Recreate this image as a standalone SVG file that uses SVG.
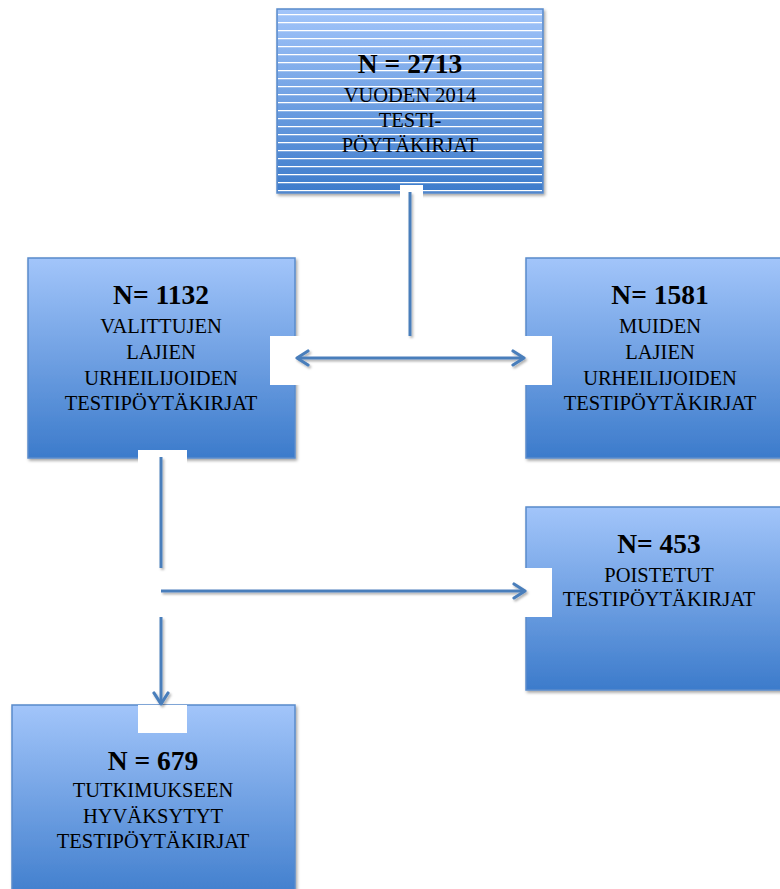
<svg xmlns="http://www.w3.org/2000/svg" width="780" height="889" viewBox="0 0 780 889">
<defs>
<linearGradient id="g" x1="0" y1="0" x2="0" y2="1">
<stop offset="0" stop-color="#a2c5fa"/>
<stop offset="1" stop-color="#3c7bcb"/>
</linearGradient>
<filter id="sh" x="-10%" y="-10%" width="130%" height="130%">
<feDropShadow dx="1.5" dy="2" stdDeviation="1.5" flood-color="#000" flood-opacity="0.35"/>
</filter>
<filter id="lsh" filterUnits="userSpaceOnUse" x="0" y="0" width="780" height="889">
<feDropShadow dx="1.5" dy="2" stdDeviation="1.2" flood-color="#000" flood-opacity="0.3"/>
</filter>
<marker id="ah" viewBox="0 0 16 18" refX="14" refY="9" markerWidth="16" markerHeight="18" markerUnits="userSpaceOnUse" orient="auto-start-reverse">
<path d="M3,2 L14,9 L3,16" fill="none" stroke="#4a7ebb" stroke-width="3.2" stroke-linecap="round" stroke-linejoin="round"/>
</marker>
</defs>
<style>
.box{fill:url(#g);stroke:#5a8bcb;stroke-width:1.5;filter:url(#sh)}
.stripe{stroke:#ffffff;stroke-width:1.3}
.mask{fill:#ffffff}
.lines{filter:url(#lsh)}
.conn{stroke:#4a7ebb;stroke-width:3;fill:none}
text{font-family:"Liberation Serif","Times New Roman",serif;text-anchor:middle;fill:#000}
.b{font-weight:bold;font-size:27.5px}
.r{font-size:20.5px}
</style>

<g id="node-2713">
<rect class="box" x="277" y="9" width="266" height="184"/>
<g class="stripe">
<line x1="278" y1="14.7" x2="542" y2="14.7"/>
<line x1="278" y1="22.7" x2="542" y2="22.7"/>
<line x1="278" y1="30.7" x2="542" y2="30.7"/>
<line x1="278" y1="38.7" x2="542" y2="38.7"/>
<line x1="278" y1="46.7" x2="542" y2="46.7"/>
<line x1="278" y1="54.7" x2="542" y2="54.7"/>
<line x1="278" y1="62.7" x2="542" y2="62.7"/>
<line x1="278" y1="70.7" x2="542" y2="70.7"/>
<line x1="278" y1="78.7" x2="542" y2="78.7"/>
<line x1="278" y1="86.7" x2="542" y2="86.7"/>
<line x1="278" y1="94.7" x2="542" y2="94.7"/>
<line x1="278" y1="102.7" x2="542" y2="102.7"/>
<line x1="278" y1="110.7" x2="542" y2="110.7"/>
<line x1="278" y1="118.7" x2="542" y2="118.7"/>
<line x1="278" y1="126.7" x2="542" y2="126.7"/>
<line x1="278" y1="134.7" x2="542" y2="134.7"/>
<line x1="278" y1="142.7" x2="542" y2="142.7"/>
<line x1="278" y1="150.7" x2="542" y2="150.7"/>
<line x1="278" y1="158.7" x2="542" y2="158.7"/>
<line x1="278" y1="166.7" x2="542" y2="166.7"/>
<line x1="278" y1="174.7" x2="542" y2="174.7"/>
<line x1="278" y1="182.7" x2="542" y2="182.7"/>
<line x1="278" y1="190.7" x2="542" y2="190.7"/>
</g>
<text class="b" x="410" y="73">N = 2713</text>
<text class="r" x="410" y="102">VUODEN 2014</text>
<text class="r" x="410" y="127">TESTI-</text>
<text class="r" x="410" y="152">PÖYTÄKIRJAT</text>
</g>

<g id="node-1132">
<rect class="box" x="28" y="258" width="267" height="200"/>
<text class="b" x="161" y="304">N= 1132</text>
<text class="r" x="161" y="333">VALITTUJEN</text>
<text class="r" x="161" y="359">LAJIEN</text>
<text class="r" x="161" y="385">URHEILIJOIDEN</text>
<text class="r" x="161" y="410">TESTIPÖYTÄKIRJAT</text>
</g>

<g id="node-1581">
<rect class="box" x="526" y="258" width="264" height="200"/>
<text class="b" x="660" y="304">N= 1581</text>
<text class="r" x="660" y="333">MUIDEN</text>
<text class="r" x="660" y="359">LAJIEN</text>
<text class="r" x="660" y="385">URHEILIJOIDEN</text>
<text class="r" x="660" y="410">TESTIPÖYTÄKIRJAT</text>
</g>

<g id="node-453">
<rect class="box" x="526" y="507" width="264" height="183"/>
<text class="b" x="659" y="553">N= 453</text>
<text class="r" x="659" y="582">POISTETUT</text>
<text class="r" x="659" y="606">TESTIPÖYTÄKIRJAT</text>
</g>

<g id="node-679">
<rect class="box" x="12" y="705" width="283" height="200"/>
<text class="b" x="153" y="770">N = 679</text>
<text class="r" x="153" y="797">TUTKIMUKSEEN</text>
<text class="r" x="153" y="823">HYVÄKSYTYT</text>
<text class="r" x="153" y="848">TESTIPÖYTÄKIRJAT</text>
</g>

<g id="connectors">
<rect class="mask" x="400" y="185" width="23" height="14"/>
<rect class="mask" x="270" y="336" width="282" height="49"/>
<rect class="mask" x="138" y="450" width="49" height="14"/>
<rect class="mask" x="150" y="568" width="402" height="49"/>
<rect class="mask" x="138" y="705" width="49" height="28"/>
<g class="lines">
<line class="conn" x1="410" y1="192" x2="410" y2="336"/>
<line class="conn" x1="297" y1="358" x2="524" y2="358" marker-start="url(#ah)" marker-end="url(#ah)"/>
<line class="conn" x1="161" y1="457" x2="161" y2="568"/>
<line class="conn" x1="161" y1="591" x2="525" y2="591" marker-end="url(#ah)"/>
<line class="conn" x1="161" y1="617" x2="161" y2="704" marker-end="url(#ah)"/>
</g>
</g>
</svg>
